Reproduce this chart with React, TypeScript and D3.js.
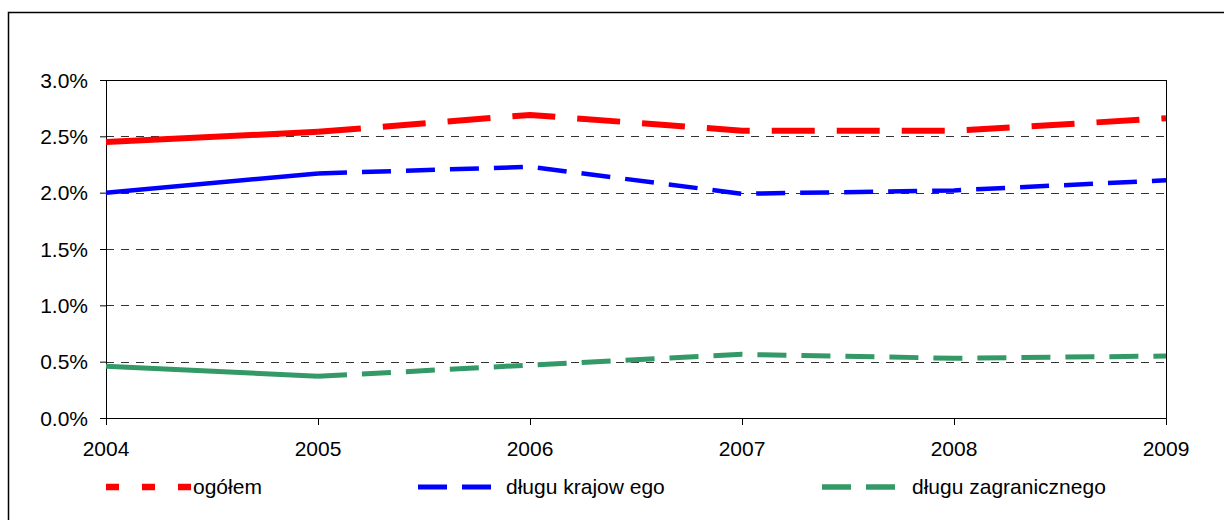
import * as d3 from 'd3'

const years = [2004, 2005, 2006, 2007, 2008, 2009]
const yTicks = [0, 0.5, 1, 1.5, 2, 2.5, 3]

const ogolem = [2.45, 2.54, 2.69, 2.55, 2.55, 2.66]
const krajowego = [2.0, 2.17, 2.23, 1.99, 2.02, 2.11]
const zagranicznego = [0.46, 0.37, 0.47, 0.565, 0.53, 0.55]

const seriesNames = ['ogółem', 'długu krajow ego', 'długu zagranicznego']

type Pt = { x: number; y: number }

export default () => {
  const margin = { top: 80, left: 106, right: 58, bottom: 102 }
  const W = 1224,
    H = 520
  const width = W - margin.left - margin.right
  const height = H - margin.top - margin.bottom

  const x = d3.scaleLinear().domain([2004, 2009]).range([margin.left, margin.left + width])
  const y = d3.scaleLinear().domain([0, 3]).range([margin.top + height, margin.top])

  const line = d3
    .line<Pt>()
    .x((d) => x(d.x))
    .y((d) => y(d.y))

  const series = [
    { name: seriesNames[0], values: ogolem, color: '#ff0000', w: 6, dash: '43 22', legX: 106, legW: 86, legDash: '13 23', textX: 193 },
    { name: seriesNames[1], values: krajowego, color: '#0000ff', w: 4.5, dash: '29 15', legX: 418, legW: 73, legDash: '29 15', textX: 506 },
    { name: seriesNames[2], values: zagranicznego, color: '#339966', w: 5, dash: '29 15', legX: 822, legW: 73, legDash: '29 15', textX: 912 },
  ]

  const font = '"Liberation Sans", Arial, sans-serif'

  return (
    <svg
      width={W}
      height={H}
      style={{ position: 'absolute', left: 0, top: 0, background: '#fff' }}
      fontFamily={font}
    >
      {/* outer chart frame */}
      <rect x={8.5} y={12.5} width={1230} height={520} fill="none" stroke="#000" strokeWidth={1.5} />

      {/* gridlines */}
      {yTicks
        .filter((t) => t > 0 && t < 3)
        .map((t) => (
          <line
            key={t}
            x1={margin.left}
            x2={margin.left + width}
            y1={Math.round(y(t)) + 0.5}
            y2={Math.round(y(t)) + 0.5}
            stroke="#333"
            strokeDasharray="8 7"
          />
        ))}

      {/* plot border */}
      <rect
        x={margin.left + 0.5}
        y={margin.top + 0.5}
        width={width}
        height={height}
        fill="none"
        stroke="#000"
        strokeWidth={1}
      />

      {/* y axis */}
      {yTicks.map((t) => (
        <g key={t}>
          <line x1={margin.left - 6} x2={margin.left} y1={y(t) + 0.5} y2={y(t) + 0.5} stroke="#000" />
          <text x={88} y={y(t)} dy="0.36em" textAnchor="end" fontSize={21} fill="#000">
            {t.toFixed(1) + '%'}
          </text>
        </g>
      ))}

      {/* x axis */}
      {years.map((yr) => (
        <g key={yr}>
          <line x1={x(yr) + 0.5} x2={x(yr) + 0.5} y1={margin.top + height} y2={margin.top + height + 7} stroke="#000" />
          <text x={x(yr)} y={456} textAnchor="middle" fontSize={21} fill="#000">
            {yr}
          </text>
        </g>
      ))}

      {/* series: solid first segment, dashed after */}
      {series.map((s) => {
        const pts: Pt[] = years.map((yr, i) => ({ x: yr, y: s.values[i] }))
        return (
          <g key={s.name}>
            <path d={line(pts.slice(0, 2)) || ''} fill="none" stroke={s.color} strokeWidth={s.w} />
            <path
              d={line(pts.slice(1)) || ''}
              fill="none"
              stroke={s.color}
              strokeWidth={s.w}
              strokeDasharray={s.dash}
              strokeLinejoin="round"
            />
          </g>
        )
      })}

      {/* legend */}
      {series.map((s) => (
        <g key={'leg' + s.name}>
          <line
            x1={s.legX}
            x2={s.legX + s.legW}
            y1={487}
            y2={487}
            stroke={s.color}
            strokeWidth={s.w + 0.5}
            strokeDasharray={s.legDash}
          />
          <text x={s.textX} y={494} fontSize={21} fill="#000">
            {s.name}
          </text>
        </g>
      ))}
    </svg>
  )
}
